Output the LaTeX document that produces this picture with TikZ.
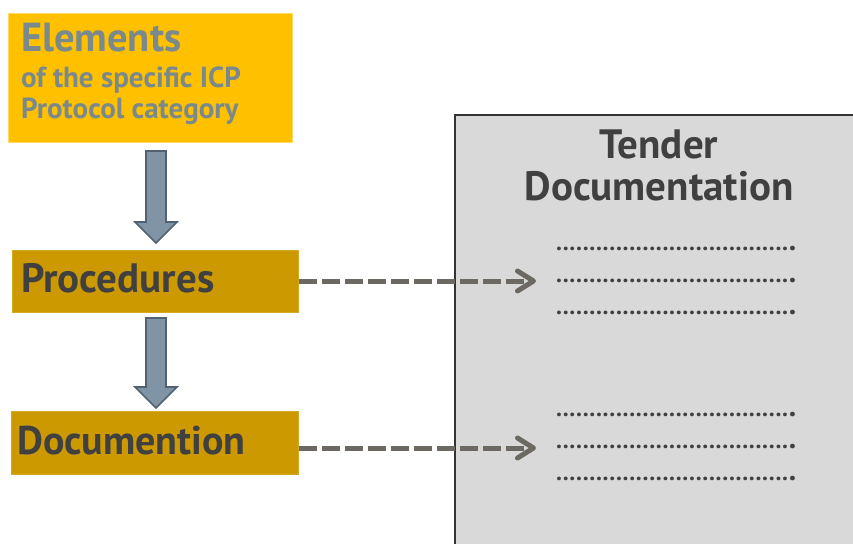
\documentclass[tikz,border=0pt]{standalone}
\usepackage{fontspec}
\setmainfont{PT Sans}
\usetikzlibrary{arrows.meta,calc}
\definecolor{gold}{RGB}{255,192,0}
\definecolor{goldedge}{RGB}{255,217,102}
\definecolor{ochre}{RGB}{204,153,0}
\definecolor{ochreedge}{RGB}{214,168,40}
\definecolor{slate}{RGB}{122,138,140}
\definecolor{ink}{RGB}{64,64,64}
\definecolor{panel}{RGB}{217,217,217}
\definecolor{arrowfill}{RGB}{128,148,166}
\definecolor{arrowedge}{RGB}{80,98,114}
\definecolor{dashgray}{RGB}{108,104,98}
\newcommand\dotrow{\hbox to 240pt{\fontsize{24}{24}\selectfont\bfseries
  \foreach\i in {1,...,35}{.\hfill}\fontsize{30}{30}\selectfont.}}
\tikzset{
  box/.style={draw, line width=0.8pt, inner sep=0pt, anchor=north west},
  downarrow/.style={fill=arrowfill, draw=arrowedge, line width=1.6pt, line join=miter},
  feed/.style={draw=dashgray, line width=5pt, dash pattern=on 18pt off 5pt,
    -{Straight Barb[length=16pt,width=20pt,line width=5pt,round]}},
  rowtext/.style={inner sep=0pt, anchor=base west, text=ink},
  label/.style={anchor=base west, inner sep=0pt},
  big/.style={font=\bfseries\fontsize{41}{41}\selectfont},
  small/.style={font=\bfseries\fontsize{29}{29}\selectfont}
}
\begin{document}
\begin{tikzpicture}[x=1pt,y=-1pt]
\useasboundingbox (0,0) rectangle (853,543);
% right-hand panel, running off the edges
\node[box, fill=panel, draw=ink!80!black, line width=2pt,
      minimum width=420pt, minimum height=440pt] (tender) at (454,114) {};
\node[big, text=ink, anchor=base, inner sep=0pt] (titleA) at (659,158) {Tender};
\node[big, text=ink, anchor=base, inner sep=0pt] (titleB) at (659,200) {Documentation};
% source boxes
\node[box, fill=gold, draw=goldedge, minimum width=284pt, minimum height=129pt] (elem) at (8,13) {};
\node[label, text=slate, font=\bfseries\fontsize{40.5}{40.5}\selectfont] (elemA) at (21,52) {Elements};
\node[label, small, text=slate] (elemB) at (21,87) {of the specific ICP};
\node[label, small, text=slate] (elemC) at (21,118) {Protocol category};
\node[box, fill=ochre, draw=ochreedge, minimum width=286pt, minimum height=62pt] (proc) at (12,250) {};
\node[label, big, text=ink] (procT) at (21,292) {Procedures};
\node[box, fill=ochre, draw=ochreedge, minimum width=287pt, minimum height=63pt] (docu) at (11,411) {};
\node[label, big, text=ink, font=\bfseries\fontsize{40}{40}\selectfont] (docuT) at (17,454) {Documention};
% block arrows between the boxes
\draw[downarrow] (146,151) -- (166,151) -- (166,222) -- (177,222) -- (156,243)
  -- (135,222) -- (146,222) -- cycle;
\draw[downarrow] (146,318) -- (166,318) -- (166,387) -- (177,387) -- (156,408)
  -- (135,387) -- (146,387) -- cycle;
% dotted placeholder lines
\node[rowtext] (r1) at (556,250) {\dotrow};
\node[rowtext] (r2) at (556,282) {\dotrow};
\node[rowtext] (r3) at (556,314) {\dotrow};
\node[rowtext] (r4) at (556,416) {\dotrow};
\node[rowtext] (r5) at (556,448) {\dotrow};
\node[rowtext] (r6) at (556,480) {\dotrow};
% dashed feeds into the panel
\coordinate (t1) at (536,281);
\coordinate (t2) at (536,448);
\draw[feed] (proc.east |- t1) -- (t1);
\draw[feed] (docu.east |- t2) -- (t2);
\end{tikzpicture}
\end{document}
